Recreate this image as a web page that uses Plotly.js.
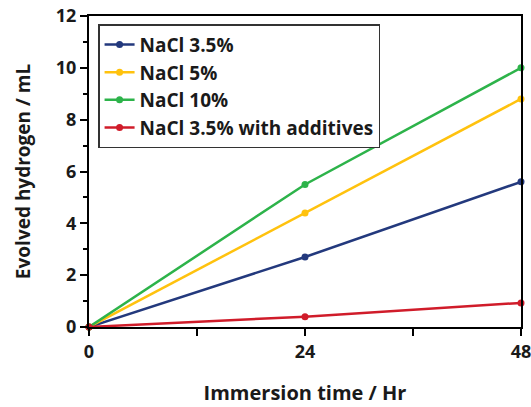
<!DOCTYPE html>
<html>
<head>
<meta charset="utf-8">
<script src="https://cdn.plot.ly/plotly-3.0.1.min.js"></script>
<style>html,body{margin:0;padding:0;background:#fff;}#chart{width:531px;height:407px;}</style>
</head>
<body>
<div id="chart"></div>
<script>
var time = [0, 24, 48];
var nacl35 = [0, 2.7, 5.6];
var nacl5 = [0, 4.4, 8.8];
var nacl10 = [0, 5.5, 10.0];
var nacl35add = [0, 0.4, 0.93];
var seriesNames = ["NaCl 3.5%", "NaCl 5%", "NaCl 10%", "NaCl 3.5% with additives"];
var colors = ["#23397d", "#ffc20e", "#2db34a", "#d01c2a"];
var values = [nacl35, nacl5, nacl10, nacl35add];

var traces = values.map(function(v, i) {
  return {
    x: time, y: v, name: seriesNames[i], type: "scatter", mode: "lines+markers",
    line: {color: colors[i], width: 2.5},
    marker: {color: colors[i], size: 7},
    cliponaxis: false
  };
});

var fontFam = "'Open Sans', sans-serif";
var layout = {
  width: 531, height: 407,
  margin: {l: 89, r: 10, t: 16, b: 80},
  paper_bgcolor: "#fff", plot_bgcolor: "#fff",
  font: {family: fontFam, color: "#1a1a1a", size: 18, weight: 700},
  showlegend: true,
  legend: {
    x: 0.021, y: 0.974, xanchor: "left", yanchor: "top",
    bgcolor: "#fff", bordercolor: "#333", borderwidth: 1.5,
    font: {family: fontFam, size: 19, weight: 700, color: "#1a1a1a"},
    itemwidth: 30, tracegroupgap: 0
  },
  xaxis: {
    range: [0, 48], tickvals: [0, 24, 48], ticktext: ["0", "24", "48"],
    showline: true, linecolor: "#000", linewidth: 2, mirror: true,
    ticks: "outside", ticklen: 7, tickwidth: 2, tickcolor: "#000",
    minor: {dtick: 12, ticks: "outside", ticklen: 7, tickwidth: 2, tickcolor: "#000", showgrid: false},
    showgrid: false, zeroline: false, ticklabeloverflow: "allow",
    tickfont: {family: fontFam, size: 18, weight: 700},
    title: {text: "Immersion time / Hr", font: {family: fontFam, size: 20, weight: 700}, standoff: 24}
  },
  yaxis: {
    range: [0, 12], dtick: 2, tick0: 0,
    showline: true, linecolor: "#000", linewidth: 2, mirror: true,
    ticks: "outside", ticklen: 7, tickwidth: 2, tickcolor: "#000",
    minor: {dtick: 1, ticks: "outside", ticklen: 4, tickwidth: 2, tickcolor: "#000", showgrid: false},
    showgrid: false, zeroline: false,
    tickfont: {family: fontFam, size: 18, weight: 700},
    title: {text: "Evolved hydrogen / mL", font: {family: fontFam, size: 19, weight: 700}, standoff: 20}
  }
};

Plotly.newPlot("chart", traces, layout, {displayModeBar: false, staticPlot: true});
</script>
</body>
</html>
